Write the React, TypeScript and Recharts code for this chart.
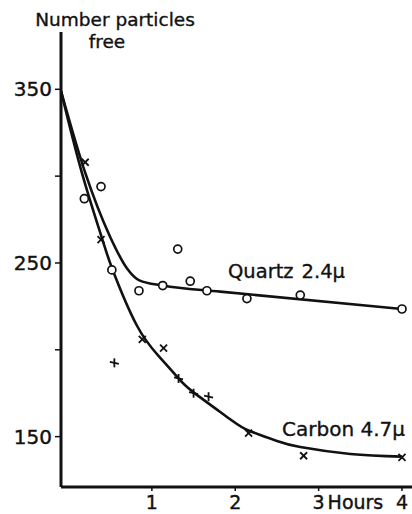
import React from 'react';
import { ComposedChart, Line, Scatter, XAxis, YAxis } from 'recharts';

// time in hours, number of free particles
const quartzCurveT = [-0.09, 0.2, 0.5, 0.7, 0.85, 1.13, 1.82, 4.0];
const quartzCurveN = [349, 302, 265, 247, 240, 237, 233.5, 223.5];
const carbonCurveT = [-0.09, 0.16, 0.4, 0.53, 0.82, 1.09, 1.32, 1.5, 1.94, 2.16, 2.5, 2.78, 3.38, 4.0];
const carbonCurveN = [349, 302, 264.5, 246, 214, 196, 183.5, 175.5, 160, 153.5, 147.5, 144, 140, 138.5];

const quartzT = [0.19, 0.39, 0.52, 0.845, 1.13, 1.31, 1.46, 1.66, 2.14, 2.78, 4.0];
const quartzN = [287, 294, 246, 234, 237, 258, 239.5, 234, 229.5, 231.5, 223.5];
const carbonCrossT = [0.2, 0.39, 0.885, 1.14, 2.16, 2.82, 4.0];
const carbonCrossN = [308, 263.5, 206, 201, 152, 139, 138];
const carbonPlusT = [0.55, 1.32, 1.5, 1.68];
const carbonPlusN = [192.5, 183.5, 175, 173];

const hourTicks = [1, 2, 3, 4];
const countTicks = [150, 200, 250, 300, 350];
const labeledCounts = [150, 250, 350];

const ink = '#111';
const font = '"DejaVu Sans", sans-serif';

const zip = (ts: number[], ns: number[]) => ts.map((t, i) => ({ t, n: ns[i] }));

const Circle = (props: any) => (
  <circle cx={props.cx} cy={props.cy} r={4} fill="#fff" stroke={ink} strokeWidth={1.7} />
);

const Cross = (props: any) => {
  const { cx, cy } = props;
  const d = 3.5;
  return (
    <g stroke={ink} strokeWidth={1.8}>
      <line x1={cx - d} y1={cy - d} x2={cx + d} y2={cy + d} />
      <line x1={cx - d} y1={cy + d} x2={cx + d} y2={cy - d} />
    </g>
  );
};

const Plus = (props: any) => {
  const { cx, cy } = props;
  const d = 4.5;
  return (
    <g stroke={ink} strokeWidth={1.8}>
      <line x1={cx - d} y1={cy - 1} x2={cx + d} y2={cy + 1} />
      <line x1={cx} y1={cy - d} x2={cx} y2={cy + d} />
    </g>
  );
};

const HourTick = (props: any) => {
  const { x, y, payload } = props;
  const style = { fontSize: 19, fontFamily: font, fill: ink, stroke: ink, strokeWidth: 0.4 };
  return (
    <g>
      <text x={x} y={y} dy="0.71em" textAnchor="middle" {...style}>
        {payload.value}
      </text>
      {payload.value === 3 && (
        <text x={x + 9} y={y} dy="0.71em" textAnchor="start" {...style}>
          Hours
        </text>
      )}
    </g>
  );
};

export default function App() {
  return (
    <div style={{ position: 'absolute', left: 0, top: 0, width: 412, height: 514, background: '#fff' }}>
      <ComposedChart width={412} height={514} margin={{ top: 32, right: 0, bottom: 0, left: 0 }}>
        <XAxis
          type="number"
          dataKey="t"
          domain={[-0.09, 4.12]}
          ticks={hourTicks}
          allowDataOverflow
          height={27}
          tickSize={4}
          tickMargin={5}
          axisLine={{ stroke: ink, strokeWidth: 3 }}
          tickLine={{ stroke: ink, strokeWidth: 1.5 }}
          tick={<HourTick />}
        />
        <YAxis
          type="number"
          dataKey="n"
          domain={[121, 383]}
          ticks={countTicks}
          allowDataOverflow
          width={61}
          tickSize={6}
          tickMargin={3}
          axisLine={{ stroke: ink, strokeWidth: 3 }}
          tickLine={{ stroke: ink, strokeWidth: 1.5 }}
          tickFormatter={(v: number) => (labeledCounts.includes(v) ? String(v) : '')}
          tick={{ fontSize: 20, fontFamily: font, fill: ink, stroke: ink, strokeWidth: 0.4 }}
        />
        <Line
          data={zip(quartzCurveT, quartzCurveN)}
          dataKey="n"
          type="monotone"
          stroke={ink}
          strokeWidth={2.6}
          dot={false}
          activeDot={false}
          isAnimationActive={false}
        />
        <Line
          data={zip(carbonCurveT, carbonCurveN)}
          dataKey="n"
          type="natural"
          stroke={ink}
          strokeWidth={2.6}
          dot={false}
          activeDot={false}
          isAnimationActive={false}
        />
        <Scatter data={zip(quartzT, quartzN)} dataKey="n" shape={<Circle />} isAnimationActive={false} />
        <Scatter data={zip(carbonCrossT, carbonCrossN)} dataKey="n" shape={<Cross />} isAnimationActive={false} />
        <Scatter data={zip(carbonPlusT, carbonPlusN)} dataKey="n" shape={<Plus />} isAnimationActive={false} />
      </ComposedChart>
      <svg width={412} height={514} style={{ position: 'absolute', left: 0, top: 0, pointerEvents: 'none' }}>
        <g fontFamily={font} fill={ink} stroke={ink} strokeWidth={0.35}>
          <text x={115} y={26} fontSize={18.5} textAnchor="middle">Number particles</text>
          <text x={107} y={48} fontSize={18.5} textAnchor="middle">free</text>
          <text x={228} y={278} fontSize={19.5}>Quartz<tspan dx={8}>2.4μ</tspan></text>
          <text x={282} y={436} fontSize={20}>Carbon 4.7μ</text>
        </g>
      </svg>
    </div>
  );
}
